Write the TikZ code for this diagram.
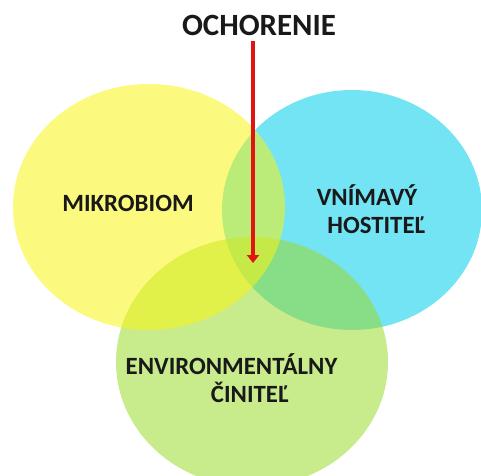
\documentclass[tikz,border=0pt]{standalone}
\usepackage{fontspec}
\setmainfont{Carlito}
\usetikzlibrary{arrows.meta}

\definecolor{ciYellow}{RGB}{248,244,20}
\definecolor{ciBlue}{RGB}{0,205,235}
\definecolor{ciGreen}{RGB}{155,219,46}
\definecolor{ciRed}{RGB}{225,20,20}

\tikzset{
  blob/.style={fill opacity=0.55, draw=none},
  label/.style={inner sep=0.75pt, font=\bfseries\fontsize{18.6}{21}\selectfont, text=black!90, align=left},
}

\begin{document}
\begin{tikzpicture}[x=0.75pt,y=0.75pt,yscale=-1,xscale=1]
    \useasboundingbox (0,0) rectangle (481,475);
    
    %Ellipse: blue
    \fill [blob, fill=ciBlue] (352,210) ellipse [x radius=130, y radius=120];
    %Ellipse: green
    \fill [blob, fill=ciGreen] (252,362) ellipse [x radius=136, y radius=125];
    %Ellipse: yellow
    \fill [blob, fill=ciYellow] (149,207) ellipse [x radius=136, y radius=123];
    
    % Text Node
    \node [label, font=\bfseries\fontsize{23.2}{25}\selectfont] (title) at (259,25) {OCHORENIE};
    % Text Node
    \node [label] (mikro) at (128,203) {MIKROBIOM};
    % Text Node
    \node [label] (host) at (371,209) {VNÍMAVÝ\\\hspace*{8pt}HOSTITEĽ};
    % Text Node
    \node [label] (env) at (231.5,378) {ENVIRONMENTÁLNY\\\hspace*{64pt}ČINITEĽ};
    
    %Arrow: red
    \coordinate (tip) at (253,263);
    \draw [ciRed, line width=3.6pt, shorten <=3pt, -{Triangle[length=6pt,width=9pt]}] (title.south -| tip) -- (tip);
    
\end{tikzpicture}
\end{document}
